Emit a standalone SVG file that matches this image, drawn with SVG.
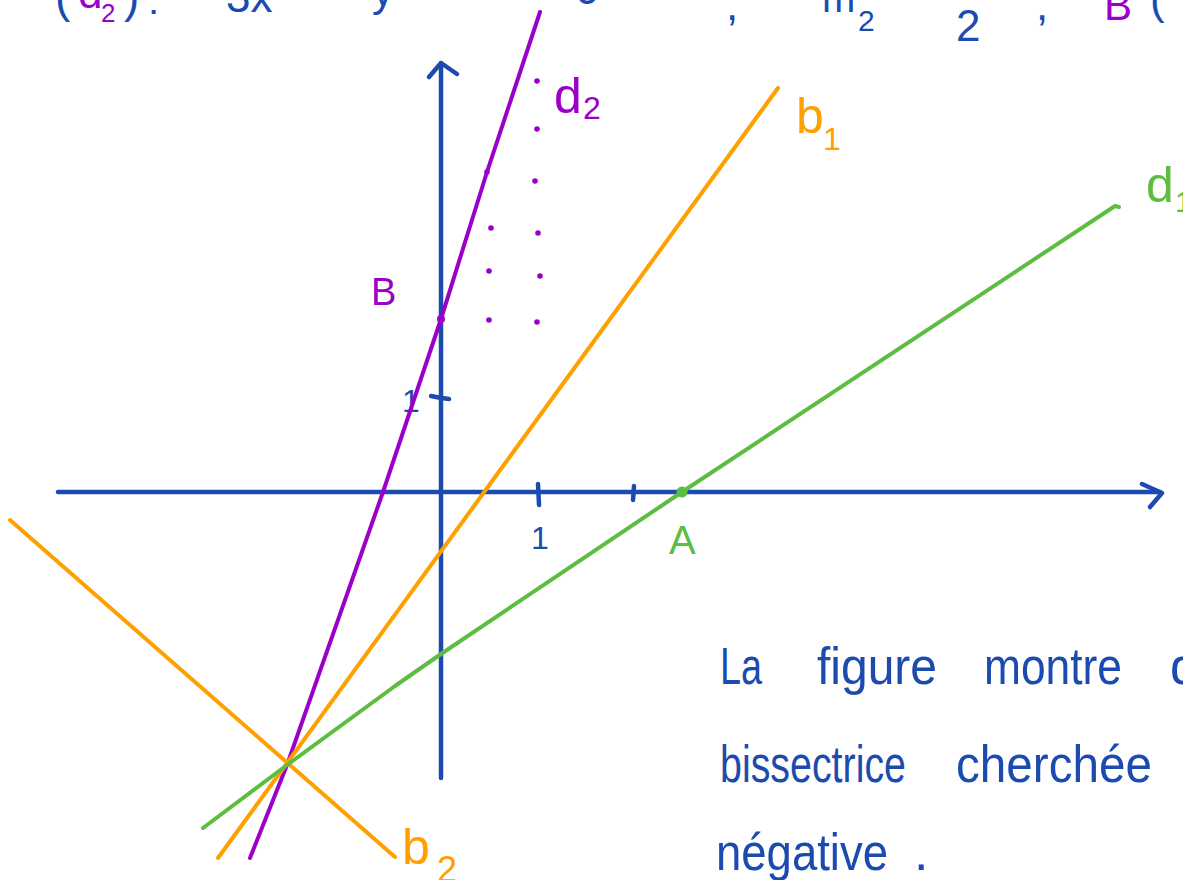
<svg xmlns="http://www.w3.org/2000/svg" width="1183" height="880" viewBox="0 0 1183 880">
<style>
.ax{stroke:#1c4bb0;stroke-width:4.5;fill:none;stroke-linecap:round;stroke-linejoin:round}
.ln{stroke-width:4;fill:none;stroke-linecap:round;stroke-linejoin:round}
.pu{stroke:#9a00c8}
.or{stroke:#ff9f00}
.gr{stroke:#5cbd40}
.t{font-family:"Liberation Sans",Arial,sans-serif}
.tb{fill:#1c4bb0}
.tp{fill:#9a00c8}
.to{fill:#ff9f00}
.tg{fill:#5cbd40}
</style>
<rect width="1183" height="880" fill="#ffffff"/>

<g id="header" class="t">
<text x="55" y="12" font-size="46" class="tb">(</text>
<text x="78" y="8" font-size="44" class="tp">d</text>
<text x="101" y="22" font-size="26" class="tp">2</text>
<text x="124" y="12" font-size="46" class="tb">)</text>
<text x="148" y="14" font-size="40" class="tb">:</text>
<text x="226" y="12" font-size="44" class="tb">3x</text>
<text x="372" y="6" font-size="44" class="tb">y</text>
<text x="575" y="4" font-size="44" class="tb">0</text>
<text x="726" y="20" font-size="44" class="tb">,</text>
<text x="822" y="12" font-size="40" class="tb">m</text>
<text x="858" y="31" font-size="30" class="tb">2</text>
<text x="956" y="41" font-size="44" class="tb">2</text>
<text x="1036" y="20" font-size="44" class="tb">,</text>
<text x="1104" y="20" font-size="42" class="tp">B</text>
<text x="1150" y="14" font-size="44" class="tb">(</text>
</g>

<g id="axes">
<path class="ax" d="M58 492 L1160 492"/>
<path class="ax" d="M1142 484 L1162 493 L1150 507"/>
<path class="ax" d="M441 778 L441 63"/>
<path class="ax" d="M429 77 L441 63 L457 74"/>
<path class="ax" d="M538 484 L539 505"/>
<path class="ax" d="M634 486 L633 500"/>
<path class="ax" d="M431 396 Q440 398 449 399"/>
</g>

<g id="axis-labels" class="t tb">
<text x="531" y="549" font-size="32">1</text>
<text x="402" y="412" font-size="32">1</text>
</g>

<g id="connectors">
<polyline id="line-d2" class="ln pu" points="250,858 287,765 383,492 441,319 487,172 540,12"/>
<line id="line-b1" class="ln or" x1="218" y1="858" x2="778" y2="88"/>
<line id="line-b2" class="ln or" x1="10" y1="520" x2="395" y2="857"/>
<polyline id="line-d1" class="ln gr" points="203,828 287,765 395,686 441,654 682,492 1115,206 1119,207"/>
</g>

<g id="d2-dots" fill="#9a00c8">
<circle cx="441" cy="319" r="4"/>
<circle cx="487" cy="172" r="2.8"/>
<circle cx="537" cy="81" r="2.8"/>
<circle cx="537" cy="129" r="2.8"/>
<circle cx="535" cy="181" r="2.8"/>
<circle cx="538" cy="233" r="2.8"/>
<circle cx="540" cy="276" r="2.8"/>
<circle cx="537" cy="322" r="2.8"/>
<circle cx="491" cy="228" r="2.8"/>
<circle cx="489" cy="271" r="2.8"/>
<circle cx="489" cy="320" r="2.8"/>
</g>

<g id="point-A">
<circle cx="682" cy="492" r="5.5" fill="#5cbd40"/>
<text x="669" y="554" font-size="40" class="t tg">A</text>
</g>

<g id="point-B">
<text x="371" y="305" font-size="38" class="t tp">B</text>
</g>

<g id="label-d2" class="t tp">
<text x="554" y="113" font-size="50">d</text>
<text x="583" y="119" font-size="32">2</text>
</g>

<g id="label-b1" class="t to">
<text x="796" y="133" font-size="50">b</text>
<text x="823" y="150" font-size="32">1</text>
</g>

<g id="label-b2" class="t to">
<text x="402" y="864" font-size="50">b</text>
<text x="437" y="882" font-size="36">2</text>
</g>

<g id="label-d1" class="t tg">
<text x="1146" y="202" font-size="50">d</text>
<text x="1175" y="212" font-size="30">1</text>
</g>

<g id="note" class="t tb" font-size="52">
<text x="720" y="684" textLength="42" lengthAdjust="spacingAndGlyphs">La</text>
<text x="817" y="684" textLength="120" lengthAdjust="spacingAndGlyphs">figure</text>
<text x="984" y="684" textLength="138" lengthAdjust="spacingAndGlyphs">montre</text>
<text x="1170" y="684">q</text>
<text x="720" y="782" textLength="186" lengthAdjust="spacingAndGlyphs">bissectrice</text>
<text x="956" y="782" textLength="196" lengthAdjust="spacingAndGlyphs">cherchée</text>
<text x="716" y="870" textLength="172" lengthAdjust="spacingAndGlyphs">négative</text>
<text x="914" y="870">.</text>
</g>
</svg>
